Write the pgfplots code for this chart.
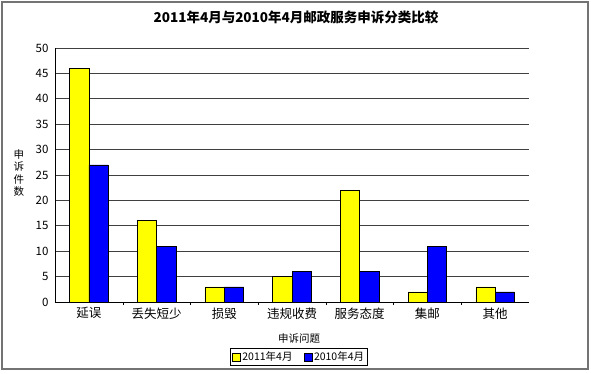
\documentclass[border=0pt]{standalone}
\usepackage{pgfplots}
\pgfplotsset{compat=1.18}
\usepackage{fontspec}
\setmainfont{Noto Sans CJK SC}
\definecolor{yel}{RGB}{255,255,0}
\definecolor{blu}{RGB}{0,0,255}
\begin{document}
\begin{tikzpicture}
\begin{axis}[
  at={(0pt,0pt)}, anchor=south west,
  scale only axis, width=474pt, height=254pt,
  xmin=-0.5, xmax=6.5, ymin=0, ymax=50,
  ybar=0pt, bar width=19.3pt,
  axis x line*=bottom, axis y line*=left,
  axis line style={black, -},
  xtick={0,...,6},
  xticklabels={延误,丢失短少,损毁,违规收费,服务态度,集邮,其他},
  minor xtick={0.5,1.5,...,5.5},
  major x tick style={draw=none},
  minor tick length=3pt,
  xtick style={black},
  tick align=outside,
  ytick={0,5,...,50},
  major tick length=0pt,
  ymajorgrids, grid style={black!75, line width=0.6pt},
  /pgf/number format/assume math mode=true,
  yticklabel style={font=\fontsize{11.5}{12}\selectfont, xshift=-3pt},
  xticklabel style={font=\fontsize{12.5}{13}\selectfont, yshift=-2pt},
  xlabel={申诉问题},
  xlabel style={font=\fontsize{10.5}{11}\selectfont, at={(rel axis cs:0.5,0)}, anchor=center, yshift=-37pt, xshift=7pt},
  ylabel={\shortstack{申\\诉\\件\\数}},
  ylabel style={rotate=-90, font=\fontsize{10.5}{10}\selectfont, at={(rel axis cs:0,0.5)}, anchor=center, xshift=-36pt, yshift=2pt},
  title={\bfseries 2011年4月与2010年4月邮政服务申诉分类比较},
  title style={font=\fontsize{13.5}{14}\selectfont, at={(rel axis cs:0.5,1)}, anchor=center, yshift=25pt, xshift=4pt},
  legend style={at={(rel axis cs:0.5,0)}, anchor=north, yshift=-46pt, xshift=7pt,
    draw=black, font=\fontsize{10.5}{11}\selectfont, inner sep=1.5pt,
    /tikz/every even column/.append style={column sep=9pt}},
  legend columns=2,
  legend image code/.code={\draw[#1] (0pt,-4pt) rectangle (8pt,4pt);},
]
\addplot[fill=yel, draw=black, line width=0.5pt] coordinates {(0,46) (1,16) (2,3) (3,5) (4,22) (5,2) (6,3)};
\addplot[fill=blu, draw=black, line width=0.5pt] coordinates {(0,27) (1,11) (2,3) (3,6) (4,6) (5,11) (6,2)};
\legend{2011年4月,2010年4月}
\end{axis}
\draw[black!55, line width=1.5pt] (-53pt,-67pt) rectangle (533pt,300pt);
\useasboundingbox (-55pt,-72pt) rectangle (536pt,302pt);
\end{tikzpicture}
\end{document}
